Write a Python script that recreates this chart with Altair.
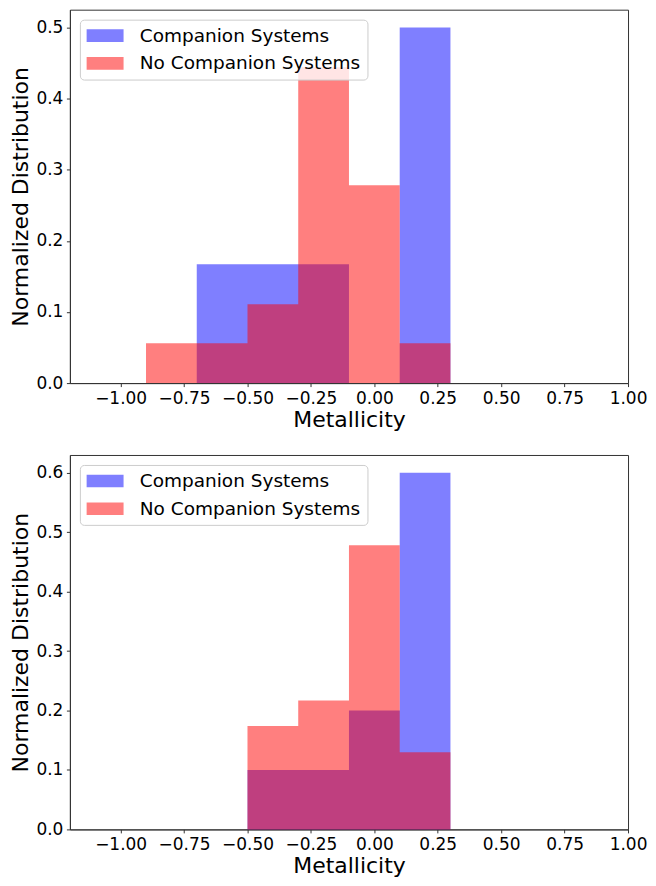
import altair as alt
import pandas as pd

# ---- data ----
series_names = ["Companion Systems", "No Companion Systems"]

# top panel: bin edges and normalized heights per bin
top_comp_edges = [-0.7, -0.5, -0.3, -0.1, 0.1, 0.3]
top_companion = [0.167, 0.167, 0.167, 0.0, 0.5]
top_nocomp_edges = [-0.9, -0.7, -0.5, -0.3, -0.1, 0.1, 0.3]
top_nocompanion = [0.056, 0.056, 0.111, 0.444, 0.278, 0.056]

# bottom panel
bot_edges = [-0.5, -0.3, -0.1, 0.1, 0.3]
bot_companion = [0.1, 0.1, 0.2, 0.6]
bot_nocompanion = [0.174, 0.217, 0.478, 0.130]

x_ticks = [-1.0, -0.75, -0.5, -0.25, 0.0, 0.25, 0.5, 0.75, 1.0]
top_y_ticks = [0.0, 0.1, 0.2, 0.3, 0.4, 0.5]
bot_y_ticks = [0.0, 0.1, 0.2, 0.3, 0.4, 0.5, 0.6]


def series_rows(name, order, edges, vals):
    # step outline of a histogram: value of each bin starts at its left edge,
    # the last edge closes the final bin
    rows = []
    for i, e in enumerate(edges):
        v = vals[i] if i < len(vals) else vals[-1]
        rows.append({"x": e, "v": v, "series": name, "ord": order})
    return rows


def build_frame(specs):
    rows = []
    for order, (name, edges, vals) in enumerate(specs):
        rows += series_rows(name, order, edges, vals)
    return pd.DataFrame(rows)


FONT = "DejaVu Sans"
LEGEND_SHAPE = "M-1,-0.68L3,-0.68L3,0.68L-1,0.68Z"
color_scale = alt.Scale(domain=series_names, range=["#0000ff", "#ff0000"])


def panel(df, ymax, yticks, width, height):
    return alt.Chart(df).mark_area(
        interpolate="step-after", opacity=0.5, strokeWidth=0
    ).encode(
        x=alt.X("x:Q", title="Metallicity",
                scale=alt.Scale(domain=[-1.2, 1.0], nice=False, zero=False),
                axis=alt.Axis(values=x_ticks, format=".2f")),
        y=alt.Y("v:Q", title="Normalized Distribution", stack=None,
                scale=alt.Scale(domain=[0, ymax], nice=False),
                axis=alt.Axis(values=yticks, format=".1f")),
        color=alt.Color("series:N", scale=color_scale,
                        legend=alt.Legend(title=None, orient="top-left",
                                          symbolType=LEGEND_SHAPE,
                                          symbolOpacity=0.5)),
        order=alt.Order("ord:Q"),
    ).properties(width=width, height=height)


top_df = build_frame([
    (series_names[0], top_comp_edges, top_companion),
    (series_names[1], top_nocomp_edges, top_nocompanion),
])
bot_df = build_frame([
    (series_names[0], bot_edges, bot_companion),
    (series_names[1], bot_edges, bot_nocompanion),
])

top = panel(top_df, 0.525, top_y_ticks, 559, 374)
bot = panel(bot_df, 0.63, bot_y_ticks, 559, 375)

chart = alt.vconcat(top, bot, spacing=23).properties(
    padding={"left": 1, "top": 0, "right": 0, "bottom": 0}
).resolve_scale(
    color="shared"
).resolve_legend(
    color="independent"
).configure_view(
    stroke="#333333", strokeWidth=1
).configure_axis(
    grid=False,
    labelFont=FONT, titleFont=FONT,
    labelFontSize=17, titleFontSize=22, titleFontWeight="normal",
    labelColor="black", titleColor="black",
    tickColor="#333333", domainColor="#333333",
    tickSize=3.5, labelPadding=3.5, titlePadding=3,
    labelFlush=False, labelOverlap=False,
).configure_legend(
    labelFont=FONT, labelFontSize=18.5, labelColor="black", labelLimit=0,
    symbolType=LEGEND_SHAPE,
    symbolSize=342.25, symbolOpacity=0.5, symbolStrokeWidth=0,
    labelOffset=34.5, rowPadding=8.8, padding=6.5, offset=10,
    fillColor="rgba(255,255,255,0.8)", strokeColor="#cccccc",
    cornerRadius=4,
)

chart.save("out.html", embed_options={"renderer": "svg", "actions": False})
